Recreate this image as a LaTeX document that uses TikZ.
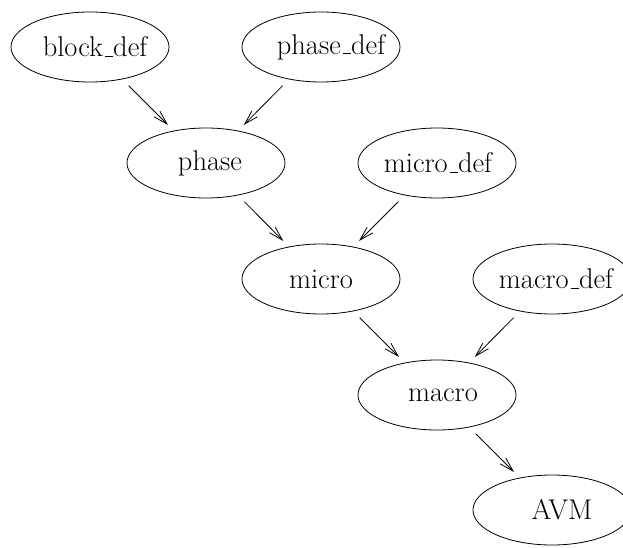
\documentclass[tikz,border=0pt]{standalone}
\usetikzlibrary{shapes,arrows.meta}
\newcommand{\us}{\leavevmode\kern.06em\vbox{\hrule width.3em height1pt}}
\tikzstyle{state}=[ellipse,draw,minimum width=158pt,minimum height=70pt,inner sep=0pt,line width=0.8pt]
\tikzstyle{edge}=[draw,line width=0.8pt,-{Straight Barb[length=14pt,width=8pt]},shorten <=9pt,shorten >=8pt]
\tikzstyle{tag}=[font=\fontsize{28.5}{34}\selectfont,inner sep=0pt]
\begin{document}
\begin{tikzpicture}[x=1pt,y=-1pt]
    \useasboundingbox (0,0) rectangle (623,548);

    % First we draw the vertices
    \foreach \pos/\name/\dx/\txt in {{(90,47)/bdef/5/block\us def}, {(321,47)/pdef/10/phase\us def},
        {(206,163)/phase/4/phase}, {(437,163)/midef/1/micro\us def}, {(321,279)/micro/0/micro},
        {(552,279)/madef/4/macro\us def}, {(437,395)/macro/6/macro}, {(552,510)/avm/10/AVM}}
        \node[state, label={[tag,xshift=\dx pt]center:\txt}] (\name) at \pos {};

    % Connect vertices with edges
    \foreach \source/\dest in {bdef/phase, pdef/phase, phase/micro, midef/micro, micro/macro, madef/macro, macro/avm}
        \path[edge] (\source) -- (\dest);

\end{tikzpicture}
\end{document}
